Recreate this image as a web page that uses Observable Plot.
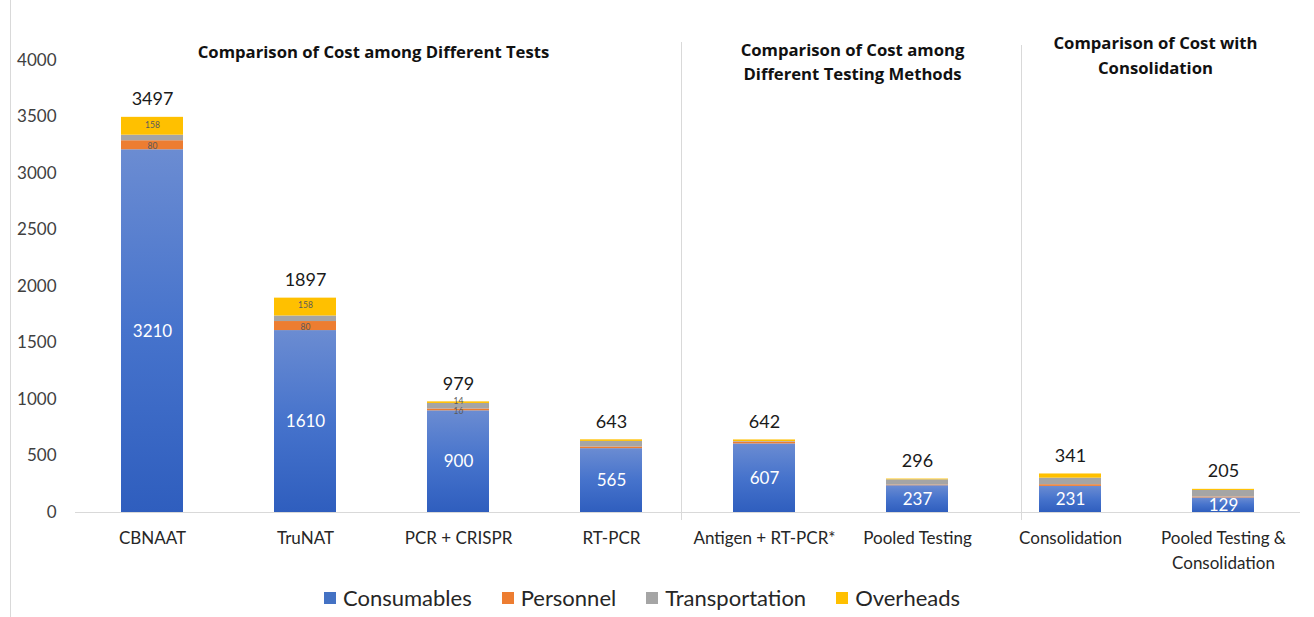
<!DOCTYPE html>
<html><head><meta charset="utf-8">
<script src="https://cdn.jsdelivr.net/npm/d3@7"></script>
<script src="https://cdn.jsdelivr.net/npm/@observablehq/plot@0.6"></script>
<style>
body{margin:0;background:#fff;font-family:Lato,"Open Sans",sans-serif;}
#wrap{width:1314px;height:617px;position:relative;overflow:hidden;background:#fff;}
#border{position:absolute;left:10px;top:0;width:0;height:617px;border-left:1px solid #d9d9d9;}
#legend{height:39px;display:flex;justify-content:center;align-items:center;font-size:22px;color:#262626;gap:30px;padding-right:30px;}
#legend .item{display:flex;align-items:center;}
#legend .sw{width:12px;height:12px;margin-right:7px;}
</style></head><body>
<div id="wrap"><div id="border"></div><div id="chart"></div><div id="legend"></div></div>
<script>
const categories = ["CBNAAT","TruNAT","PCR + CRISPR","RT-PCR","Antigen + RT-PCR*","Pooled Testing","Consolidation","Pooled Testing & Consolidation"];
const series = ["Consumables","Personnel","Transportation","Overheads"];
const consumables    = [3210,1610,900,565,607,237,231,129];
const personnel      = [80,80,16,15,16,6,15,8];
const transportation = [49,49,49,49,5,46,58,58];
const overheads      = [158,158,14,14,14,7,37,10];
const totals         = [3497,1897,979,643,642,296,341,205];
const seriesColors   = ["#4472C4","#ED7D31","#A5A5A5","#FFC000"];
const yTicks = [0,500,1000,1500,2000,2500,3000,3500,4000];
const xTickLabels = ["CBNAAT","TruNAT","PCR + CRISPR","RT-PCR","Antigen + RT-PCR*","Pooled Testing","Consolidation","Pooled Testing &\nConsolidation"];
const sectionTitles = ["Comparison of Cost among Different Tests","Comparison of Cost among\nDifferent Testing Methods","Comparison of Cost with\nConsolidation"];
const sectionAnchors = ["TruNAT","Antigen + RT-PCR*","Consolidation"];
const separatorAnchors = ["Antigen + RT-PCR*","Consolidation"];
const smallLabelCategories = ["CBNAAT","TruNAT","PCR + CRISPR"];

const valuesBySeries = [consumables, personnel, transportation, overheads];
const rows = [];
categories.forEach((c, i) => {
  series.forEach((s, j) => rows.push({category: c, series: s, value: valuesBySeries[j][i]}));
});
const totalRows = categories.map((c, i) => ({category: c, total: totals[i]}));
const consRows = rows.filter(d => d.series === "Consumables");

const fillRange = ["url(#consGrad)", seriesColors[1], seriesColors[2], seriesColors[3]];
const titleOffsets = [[68, -20, 1.47], [88, -22, 1.47], [85, -30, 1.52]];
const titleMarks = sectionTitles.map((t, i) => Plot.text([{t, a: sectionAnchors[i]}], {
  x: "a", text: "t", frameAnchor: "top", lineAnchor: "top",
  dx: titleOffsets[i][0], dy: titleOffsets[i][1],
  fontWeight: "bold", fontSize: 16.7, fill: "#111", lineHeight: titleOffsets[i][2],
  fontFamily: "'Open Sans', Lato, sans-serif"
}));
const smallLabelMark = (ser, dy) => Plot.text(rows, Plot.stackY({
  x: "category", y: "value", z: "series", order: series,
  text: d => (d.series === ser && smallLabelCategories.includes(d.category)) ? String(d.value) : "",
  dy, fill: "#5a5a5a", fontSize: 8.5
}));

const chart = Plot.plot({
  width: 1314,
  height: 578,
  marginLeft: 75,
  marginRight: 14,
  marginTop: 60,
  marginBottom: 66,
  style: {fontFamily: "Lato, 'Open Sans', sans-serif", fontSize: "17px", color: "#404040", background: "transparent"},
  x: {domain: categories, paddingInner: 0.595, paddingOuter: 0.3, label: null},
  y: {domain: [0, 4000], label: null},
  color: {domain: series, range: fillRange},
  marks: [
    Plot.ruleX([separatorAnchors[0]], {x: d => d, dx: -83, stroke: "#d9d9d9", insetTop: -18, insetBottom: -8}),
    Plot.ruleX([separatorAnchors[1]], {x: d => d, dx: -49, stroke: "#d9d9d9", insetTop: -15, insetBottom: -8}),
    Plot.ruleY([0], {stroke: "#d9d9d9"}),
    Plot.barY(rows, Plot.stackY({x: "category", y: "value", fill: "series", z: "series", order: series})),
    Plot.text(consRows, {x: "category", y: d => d.value / 2, text: d => String(d.value), fill: "white", fontSize: 17}),
    smallLabelMark("Overheads", -1.5),
    smallLabelMark("Personnel", 1.5),
    Plot.text(totalRows, {x: "category", y: "total", text: d => String(d.total), dy: -18, fill: "#1a1a1a", fontSize: 18}),
    ...titleMarks,
    Plot.axisY({ticks: yTicks, tickFormat: d => String(d), tickSize: 0, tickPadding: 19, fontSize: 17}),
    Plot.axisX({tickSize: 0, tickPadding: 14, fontSize: 17, lineHeight: 1.45, tickFormat: (d) => xTickLabels[categories.indexOf(d)], fill: "#262626"})
  ]
});

document.getElementById("chart").appendChild(chart);

d3.select(chart).insert("defs", ":first-child").html(
  '<linearGradient id="consGrad" x1="0" y1="0" x2="0" y2="1">' +
  '<stop offset="0" stop-color="#6B8CD2"/><stop offset="0.5" stop-color="#4673CC"/><stop offset="1" stop-color="#2F5EBE"/></linearGradient>'
);

const legend = document.getElementById("legend");
series.forEach((s, i) => {
  const it = document.createElement("div"); it.className = "item";
  it.innerHTML = `<span class="sw" style="background:${seriesColors[i]}"></span><span>${s}</span>`;
  legend.appendChild(it);
});
</script>
</body></html>
